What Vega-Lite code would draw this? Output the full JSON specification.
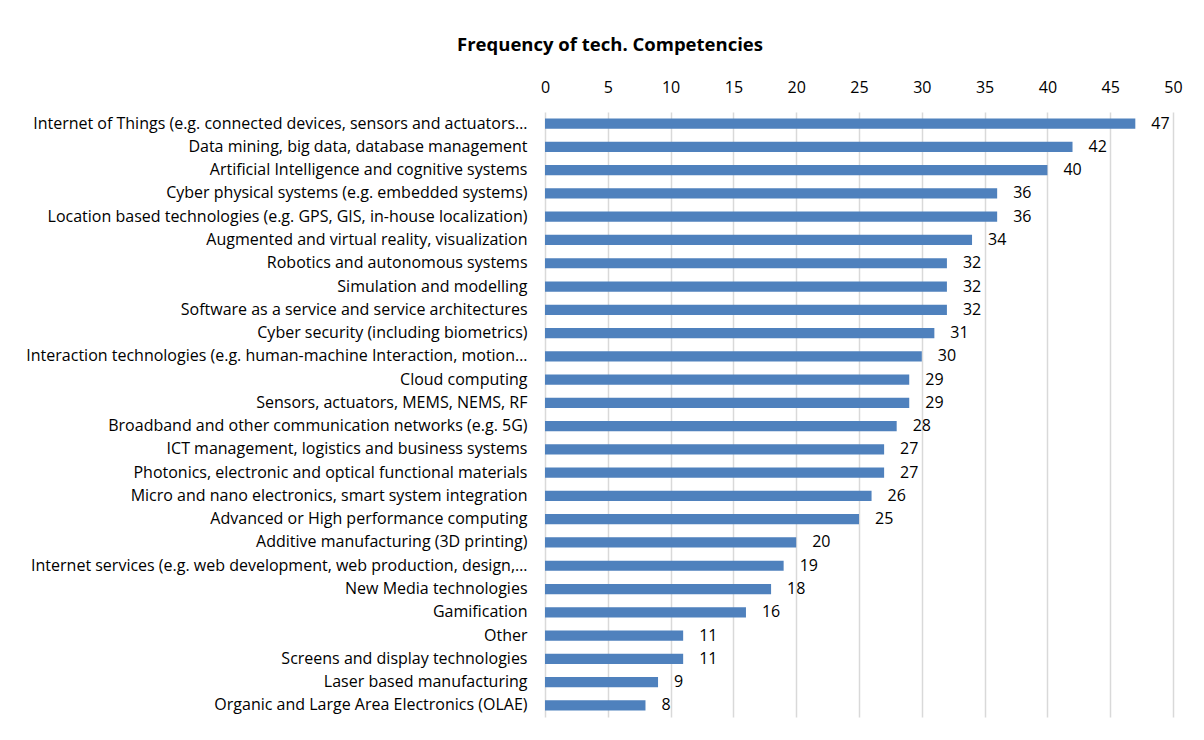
{
  "$schema": "https://vega.github.io/schema/vega-lite/v6.json",
  "width": 628,
  "height": 605,
  "autosize": {"type": "none"},
  "padding": {"left": 545, "top": 112, "right": 31, "bottom": 23},
  "background": "white",
  "title": {
    "text": "Frequency of tech. Competencies",
    "font": "Open Sans",
    "fontSize": 18.5,
    "fontWeight": "bold",
    "color": "#000000",
    "anchor": "middle",
    "dx": -249,
    "offset": 25
  },
  "data": {
    "values": [
      {"label": "Internet of Things (e.g. connected devices, sensors and actuators…", "value": 47},
      {"label": "Data mining, big data, database management", "value": 42},
      {"label": "Artificial Intelligence and cognitive systems", "value": 40},
      {"label": "Cyber physical systems (e.g. embedded systems)", "value": 36},
      {"label": "Location based technologies (e.g. GPS, GIS, in-house localization)", "value": 36},
      {"label": "Augmented and virtual reality, visualization", "value": 34},
      {"label": "Robotics and autonomous systems", "value": 32},
      {"label": "Simulation and modelling", "value": 32},
      {"label": "Software as a service and service architectures", "value": 32},
      {"label": "Cyber security (including biometrics)", "value": 31},
      {"label": "Interaction technologies (e.g. human-machine Interaction, motion…", "value": 30},
      {"label": "Cloud computing", "value": 29},
      {"label": "Sensors, actuators, MEMS, NEMS, RF", "value": 29},
      {"label": "Broadband and other communication networks (e.g. 5G)", "value": 28},
      {"label": "ICT management, logistics and business systems", "value": 27},
      {"label": "Photonics, electronic and optical functional materials", "value": 27},
      {"label": "Micro and nano electronics, smart system integration", "value": 26},
      {"label": "Advanced or High performance computing", "value": 25},
      {"label": "Additive manufacturing (3D printing)", "value": 20},
      {"label": "Internet services (e.g. web development, web production, design,…", "value": 19},
      {"label": "New Media technologies", "value": 18},
      {"label": "Gamification", "value": 16},
      {"label": "Other", "value": 11},
      {"label": "Screens and display technologies", "value": 11},
      {"label": "Laser based manufacturing", "value": 9},
      {"label": "Organic and Large Area Electronics (OLAE)", "value": 8}
    ]
  },
  "encoding": {
    "y": {
      "field": "label",
      "type": "nominal",
      "sort": null,
      "title": null,
      "scale": {"paddingInner": 0.56, "paddingOuter": 0.28},
      "axis": {
        "domain": false,
        "ticks": false,
        "grid": false,
        "labelFont": "Open Sans",
        "labelFontSize": 16,
        "labelColor": "#000000",
        "labelPadding": 18,
        "labelLimit": 600
      }
    },
    "x": {
      "field": "value",
      "type": "quantitative",
      "title": null,
      "scale": {"domain": [0, 50], "nice": false},
      "axis": {
        "orient": "top",
        "values": [0, 5, 10, 15, 20, 25, 30, 35, 40, 45, 50],
        "domain": false,
        "ticks": false,
        "grid": true,
        "gridColor": "#d9d9d9",
        "gridWidth": 1.5,
        "labelFlush": false,
        "labelOverlap": false,
        "labelFont": "Open Sans",
        "labelFontSize": 16,
        "labelColor": "#000000",
        "labelPadding": 17
      }
    }
  },
  "layer": [
    {"mark": {"type": "bar", "color": "#4F81BD"}},
    {
      "mark": {"type": "text", "align": "left", "dx": 16, "font": "Open Sans", "fontSize": 16, "color": "#000000"},
      "encoding": {"text": {"field": "value", "type": "quantitative"}}
    }
  ],
  "config": {"view": {"stroke": null}}
}
